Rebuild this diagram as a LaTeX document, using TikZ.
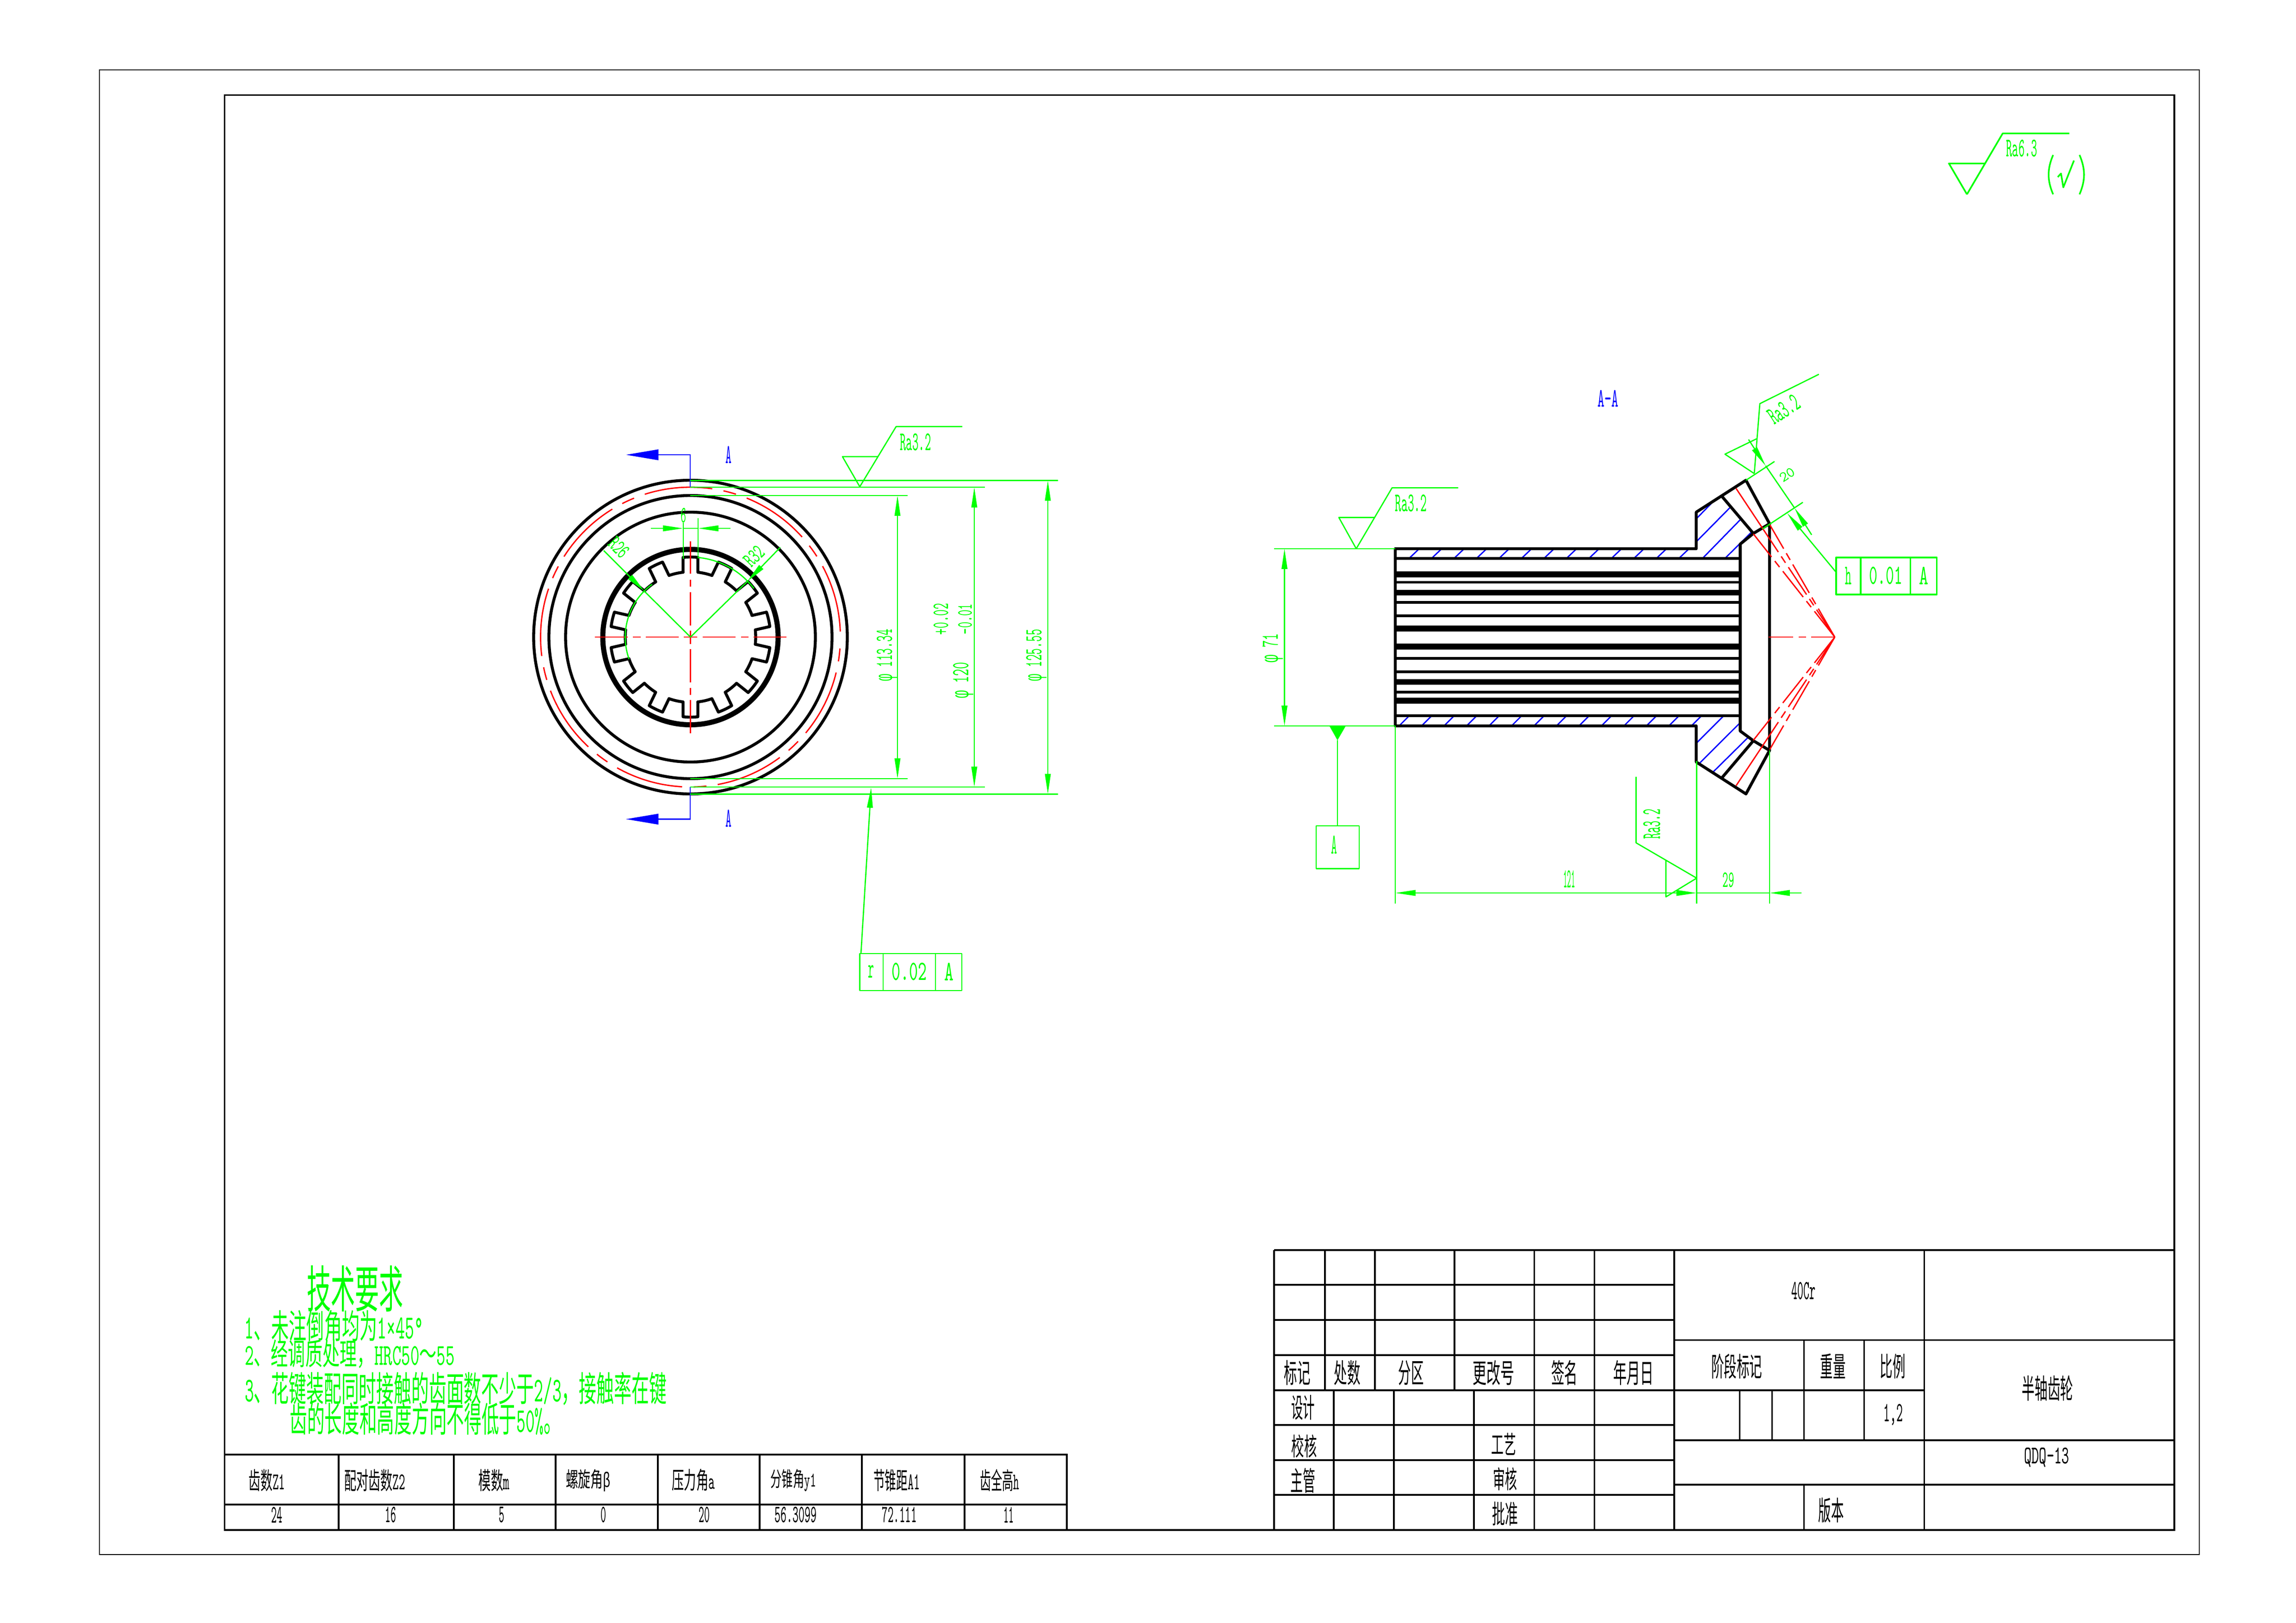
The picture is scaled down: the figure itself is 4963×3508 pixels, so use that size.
\documentclass[tikz,border=0pt]{standalone}
\usepackage{fontspec}
\usepackage{graphicx}
\usetikzlibrary{arrows.meta,calc}
\newfontfamily\cjk{Noto Sans CJK SC}
\newfontfamily\grk{Liberation Mono}
\newcommand{\C}[1]{{\cjk #1}}
\newcommand{\F}{{\grk φ}}
\newlength{\pxu}\setlength{\pxu}{0.56906pt}
\newcommand{\tx}[7]{\node[text=#1,rotate=#4,inner sep=0pt,font=\ttfamily] at (#2,#3) {\resizebox*{#5\pxu}{#6\pxu}{#7}};}
\definecolor{gd}{RGB}{0,255,0}
\definecolor{bd}{RGB}{0,0,255}
\definecolor{rd}{RGB}{255,0,0}
\tikzset{
  blk/.style={draw=black,line width=3.6pt,line cap=round,line join=round},
  thin black/.style={draw=black,line width=1.8pt},
  grn/.style={draw=gd,line width=1.5pt,line join=round},
  hatch/.style={draw=bd,line width=1.6pt},
  redl/.style={draw=rd,line width=1.6pt},
  conedash/.style={redl,dash pattern=on 40.4pt off 6.5pt on 9.4pt off 6.5pt on 40.4pt off 6.5pt on 9.4pt off 6.5pt on 230pt},
  >={Triangle[length=25pt,width=7pt]},
}
\begin{document}
\begin{tikzpicture}[x=0.02cm,y=-0.02cm]
\useasboundingbox (0,0) rectangle (4963,3508);
\fill[white] (0,0) rectangle (4963,3508);
% frames
\draw[draw=black,line width=1.2pt] (215,151) rectangle (4754,3360);
\draw[draw=black,line width=2.1pt] (485.5,205.5) rectangle (4700,3306.7);

% ---------- left view
\draw[blk] (1492.5,1377) circle[radius=339];
\draw[blk] (1492.5,1377) circle[radius=306];
\draw[blk] (1492.5,1377) circle[radius=270];
\draw[blk,line width=6.3pt] (1492.5,1377) circle[radius=189.5];
\begin{scope}[shift={(1492.5,1377)}]
\foreach \k in {0,...,13}{
  \pgfmathsetmacro{\a}{90+\k*360/14}
  \pgfmathsetmacro{\aa}{\a-5.3}
  \pgfmathsetmacro{\ab}{\a+5.3}
  \pgfmathsetmacro{\ac}{\a-6.5}
  \pgfmathsetmacro{\ad}{\a+6.5}
  \pgfmathsetmacro{\ae}{\a+360/14-6.5}
  \draw[blk] (\ac:141) -- (\aa:173) arc[start angle=\aa,end angle=\ab,radius=173] -- (\ad:141) arc[start angle=\ad,end angle=\ae,radius=141];
}
\end{scope}
\draw[redl,dash pattern=on 84pt off 14pt on 16pt off 14pt,dash phase=84pt] (1492.5,1377) ++(324,0) arc[start angle=0,end angle=360,radius=324];
\foreach \a/\b in {1286/1356.7,1368/1385,1396/1466.7,1478/1507,1519/1590,1601.7/1617.7,1629/1700}
  \draw[redl] (\a,1377) -- (\b,1377);
\foreach \a/\b in {1170/1240,1253/1268,1280/1351.7,1363/1392,1403/1475,1486.7/1501.7,1513/1585}
  \draw[redl] (1492.5,\a) -- (1492.5,\b);
% section marks
\tikzset{secarrow/.style={hatch,-{Triangle[length=40pt,width=13pt]}}}
\draw[hatch] (1492,1053) -- (1492,983) -- (1423,983);
\draw[secarrow] (1423,983) -- (1353,983);
\draw[hatch] (1492,1701) -- (1492,1770.5) -- (1423,1770.5);
\draw[secarrow] (1423,1770.5) -- (1353,1770.5);
\tx{bd}{1575}{983}{0}{13}{37}{A}
\tx{bd}{1575}{1769}{0}{13}{37}{A}
% extension and dimension lines
\foreach \yy/\xx in {1038.4/2287,1053/2129,1071/1962}
  \draw[grn] (1492,\yy) -- (\xx,\yy);
\foreach \yy/\xx in {1716.6/2287,1701/2129,1683/1962}
  \draw[grn] (1492,\yy) -- (\xx,\yy);
\draw[grn,<->] (1940,1071) -- (1940,1683);
\draw[grn,<->] (2106,1053) -- (2106,1701);
\draw[grn,<->] (2265,1038.4) -- (2265,1716.6);
\tx{gd}{1917}{1416}{90}{112}{44}{\F\ 113.34}
\tx{gd}{2082}{1470}{90}{78}{44}{\F\ 120}
\tx{gd}{2240}{1416}{90}{112}{44}{\F\ 125.55}
\tx{gd}{2034}{1338}{90}{68}{32}{+0.02}
\tx{gd}{2086}{1338}{90}{66}{30}{-0.01}
% roughness on OD
\draw[grn] (1858.5,1052) -- (1821,987) -- (1898,987);
\draw[grn] (1858.5,1052) -- (1937,922) -- (2080,922);
\tx{gd}{1979}{956}{0}{67}{37}{Ra3.2}
% runout frame
\draw[grn] (1858.5,2061) rectangle (2079,2141);
\draw[grn] (1909,2061) -- (1909,2141);
\draw[grn] (2022,2061) -- (2022,2141);
\tx{gd}{1883}{2100}{0}{13}{27}{r}
\tx{gd}{1965.5}{2100}{0}{76}{38}{0.02}
\tx{gd}{2051}{2100}{0}{20}{38}{A}
\draw[grn,->] (1861,2061) -- (1883,1702);
% spline radii
\draw[grn,->] (1305,1190) -- (1393,1278);
\draw[grn] (1393,1278) -- (1492.5,1377);
\draw[grn,->] (1686.7,1183) -- (1615,1257);
\draw[grn] (1615,1257) -- (1492.5,1377);
\draw[grn] (1492.5,1377) ++(-126:141) arc[start angle=-126,end angle=-199.7,radius=141];
\draw[grn] (1492.5,1377) ++(-84.6:172.8) arc[start angle=-84.6,end angle=-37.5,radius=172.8];
\tx{gd}{1338}{1183}{-45}{44}{30}{R26}
\tx{gd}{1630}{1202}{45}{44}{30}{R32}
% slot width
\draw[grn] (1477,1130) -- (1477,1208);
\draw[grn] (1509,1120) -- (1509,1207);
\draw[grn,->] (1407,1142) -- (1477,1142);
\draw[grn,->] (1579,1142) -- (1509,1142);
\draw[grn] (1477,1142) -- (1509,1142);
\tx{gd}{1477}{1114}{0}{12}{32}{6}

% ---------- section A-A
\tx{bd}{3475.5}{861}{0}{45}{36}{A-A}
\foreach \yy/\w in {1241/7.4,1258.5/3.4,1281/6.3,1302/3.4,1331/3.4,1358.5/7.4,1397/7.4,1423/3.4,1452/3.4,1473.6/6.8,1496/3.4,1514/7.4}
  \draw[draw=black,line width=\w pt] (3016,\yy) -- (3761.6,\yy);
% hatching
\foreach \k in {0,...,12}{
  \pgfmathsetmacro{\xa}{3631-48.6*\k}
  \draw[hatch] (\xa,1205) -- ({\xa+20},1186);
}
\foreach \k in {0,...,13}{
  \pgfmathsetmacro{\xa}{3656-48.6*\k}
  \draw[hatch] (\xa,1569) -- ({\xa+21},1548);
}
\draw[hatch] (3667,1121) -- (3707,1080);
\draw[hatch] (3667,1170.5) -- (3742,1094.6);
\draw[hatch] (3680,1207) -- (3764,1121);
\draw[hatch] (3728.6,1207) -- (3786.6,1149.5);
\draw[hatch] (3667,1606) -- (3726,1547);
\draw[hatch] (3673.7,1649.5) -- (3761,1562.5);
\draw[hatch] (3702,1669.6) -- (3781,1591.5);
% outline
\draw[blk] (3016,1186) -- (3666.5,1186) -- (3666.5,1107) -- (3774,1038) -- (3825,1132) -- (3825,1622) -- (3774,1716) -- (3666.5,1647) -- (3666.5,1569) -- (3016,1569) -- cycle;
\draw[blk] (3016,1207) -- (3761.6,1207);
\draw[blk] (3016,1547) -- (3761.6,1547);
\draw[blk] (3825,1132) -- (3790,1153) -- (3761.6,1176) -- (3761.6,1580) -- (3790,1601) -- (3825,1622);
\draw[blk] (3723,1074) -- (3790,1153);
\draw[blk] (3723,1680) -- (3790,1601);
% pitch cone lines
\foreach \yy/\xx in {1055.8/3752.7,1134/3825.4,1154/3790,1698.2/3752.7,1620/3825.4,1600/3790}
  \draw[conedash] (3966,1377) -- (\xx,\yy);
\draw[redl,dash pattern=on 29pt off 6.3pt on 9.4pt off 6.3pt on 60pt] (3966,1377) -- (3823,1377);
% diameter 71
\draw[grn] (2754,1186) -- (3016,1186);
\draw[grn] (2754,1569) -- (3016,1569);
\draw[grn,<->] (2776.5,1186) -- (2776.5,1569);
\tx{gd}{2751}{1400.8}{90}{63}{44}{\F\ 71}
% roughness left
\draw[grn] (2931.6,1186) -- (2894,1118.5) -- (2970.4,1118.5);
\draw[grn] (2931.6,1186) -- (3009,1054.4) -- (3152,1054.4);
\tx{gd}{3050}{1088}{0}{69}{37}{Ra3.2}
% datum
\fill[gd] (2873.5,1569) -- (2909,1569) -- (2891,1600) -- cycle;
\draw[grn] (2891,1600) -- (2891,1785);
\draw[grn] (2845,1785) rectangle (2938,1877.7);
\tx{gd}{2884}{1826}{0}{13}{39}{A}
% length dims
\draw[grn] (3016,1569) -- (3016,1953);
\draw[grn] (3667.5,1645) -- (3667.5,1953);
\draw[grn] (3825,1622) -- (3825,1953);
\draw[grn,<->] (3016,1930) -- (3667.5,1930);
\draw[grn] (3667.5,1930) -- (3825,1930);
\draw[grn,<-] (3825,1930) -- (3894,1930);
\tx{gd}{3392}{1900}{0}{26}{37}{121}
\tx{gd}{3736}{1902}{0}{25}{32}{29}
% roughness bottom
\draw[grn] (3536.5,1679) -- (3536.5,1821.7) -- (3667.5,1898) -- (3601,1938.5) -- (3601,1859.5);
\tx{gd}{3570.5}{1781}{90}{65}{37}{Ra3.2}
% roughness on flange
\draw[grn] (3792,1023.6) -- (3728.6,981.7) -- (3797,948.4);
\draw[grn] (3792,1023.6) -- (3804,872.5) -- (3931.6,809);
\tx{gd}{3856}{885}{33}{71}{36}{Ra3.2}
% dim 20
\draw[grn] (3774,1038) -- (3835.7,997.5);
\draw[grn] (3810,1143) -- (3897,1085.7);
\draw[grn,->] (3779.6,950) -- (3816.5,1006.7);
\draw[grn,->] (3916,1156) -- (3879,1098);
\draw[grn] (3816.5,1006.7) -- (3879,1098);
\tx{gd}{3863}{1026}{33}{34}{20}{20}
% tolerance frame
\draw[grn,->] (3969,1237) -- (3863,1109);
\draw[grn,line width=2pt] (3969,1205) rectangle (4186.6,1285);
\draw[grn,line width=2pt] (4022,1205) -- (4022,1285);
\draw[grn,line width=2pt] (4129.4,1205) -- (4129.4,1285);
\tx{gd}{3995}{1244.6}{0}{14}{38}{h}
\tx{gd}{4076}{1244.6}{0}{72}{38}{0.01}
\tx{gd}{4158}{1244.6}{0}{20}{38}{A}

% ---------- general roughness
\draw[grn,line width=2pt] (4251.7,420) -- (4212.7,353.3) -- (4290,353.3);
\draw[grn,line width=2pt] (4251.7,420) -- (4329,288.3) -- (4472.7,288.3);
\tx{gd}{4370}{320.7}{0}{67}{37}{Ra6.3}
\draw[grn,line width=2pt] (4438,335) .. controls (4425,365) and (4425,390) .. (4438,420);
\draw[grn,line width=2pt] (4495,335) .. controls (4508,365) and (4508,390) .. (4495,420);
\draw[grn,line width=2pt] (4448,382.7) -- (4455,375) -- (4460,405) -- (4483,347);

% ---------- technical requirements
\tx{gd}{767.5}{2785}{0}{209}{100}{\C{技术要求}}
\tx{gd}{722}{2866}{0}{387}{68}{1\C{、未注倒角均为}1×45°}
\tx{gd}{756}{2926}{0}{454}{62}{2\C{、经调质处理，}HRC50\C{～}55}
\tx{gd}{985}{3002}{0}{912}{72}{3\C{、花键装配同时接触的齿面数不少于}2/3\C{，接触率在键}}
\tx{gd}{920}{3067}{0}{587}{70}{\C{齿的长度和高度方向不得低于}50\%\C{。}}

% ---------- parameter table
\draw[thin black] (486,3144) -- (2306,3144) -- (2306,3307);
\draw[thin black] (486,3252) -- (2306,3252);
\foreach \xx in {732,981,1201,1422,1642,1863,2085}
  \draw[thin black] (\xx,3144) -- (\xx,3307);
\tx{black}{577}{3199.5}{0}{79}{48}{\C{齿数}Z1}
\tx{black}{810}{3199.5}{0}{132}{48}{\C{配对齿数}Z2}
\tx{black}{1068}{3199.5}{0}{67}{48}{\C{模数}m}
\tx{black}{1271.5}{3199.5}{0}{97}{48}{\C{螺旋角}{\grk β}}
\tx{black}{1499}{3199.5}{0}{93}{48}{\C{压力角}a}
\tx{black}{1715}{3199.5}{0}{99}{48}{\C{分锥角}y1}
\tx{black}{1938}{3199.5}{0}{100}{48}{\C{节锥距}A1}
\tx{black}{2161}{3199.5}{0}{85}{48}{\C{齿全高}h}
\tx{black}{598}{3274}{0}{24}{34}{24}
\tx{black}{844}{3274}{0}{24}{34}{16}
\tx{black}{1084}{3274}{0}{12}{34}{5}
\tx{black}{1304}{3274}{0}{12}{34}{0}
\tx{black}{1522}{3274}{0}{24}{34}{20}
\tx{black}{1720}{3274}{0}{91}{34}{56.3099}
\tx{black}{1944}{3274}{0}{75}{34}{72.111}
\tx{black}{2180}{3274}{0}{22}{34}{11}

% ---------- title block
\foreach \yy in {2702,2777,2853,2929,3005,3080,3156,3231}
  \draw[thin black] (2754,\yy) -- (3619,\yy);
\draw[thin black] (2754,2702) -- (2754,3307);
\draw[thin black] (2754,2702) -- (4700,2702);
\foreach \xx in {2864,2972,3144,3316.5,3446.6}
  \draw[thin black] (\xx,2702) -- (\xx,3005);
\foreach \xx in {2883,3013,3186,3316.5,3446.6}
  \draw[thin black] (\xx,3005) -- (\xx,3307);
\draw[thin black] (3619,2702) -- (3619,3307);
\draw[thin black] (4159.6,2702) -- (4159.6,3307);
\draw[thin black] (3619,2896.4) -- (4700,2896.4);
\draw[thin black] (3619,3005) -- (4159.6,3005);
\draw[thin black] (3619,3113) -- (4700,3113);
\draw[thin black] (3619,3209) -- (4700,3209);
\draw[thin black] (3899.5,2896.4) -- (3899.5,3113);
\draw[thin black] (4029.5,2896.4) -- (4029.5,3113);
\draw[thin black] (3760.4,3005) -- (3760.4,3113);
\draw[thin black] (3830.5,3005) -- (3830.5,3113);
\draw[thin black] (3899.5,3209) -- (3899.5,3307);
\tx{black}{2804}{2967}{0}{57}{54}{\C{标记}}
\tx{black}{2912}{2967}{0}{57}{54}{\C{处数}}
\tx{black}{3050}{2967}{0}{55}{54}{\C{分区}}
\tx{black}{3228.5}{2967}{0}{90}{54}{\C{更改号}}
\tx{black}{3381.6}{2967}{0}{57}{54}{\C{签名}}
\tx{black}{3531}{2967}{0}{87}{54}{\C{年月日}}
\tx{black}{3754}{2953}{0}{110}{54}{\C{阶段标记}}
\tx{black}{3962}{2953}{0}{55}{54}{\C{重量}}
\tx{black}{4091}{2953}{0}{55}{54}{\C{比例}}
\tx{black}{4426}{3001}{0}{111}{55}{\C{半轴齿轮}}
\tx{black}{2816.5}{3042}{0}{51}{54}{\C{设计}}
\tx{black}{2819}{3126}{0}{55}{50}{\C{校核}}
\tx{black}{2816.5}{3200.6}{0}{54}{54}{\C{主管}}
\tx{black}{3250}{3121}{0}{54}{48}{\C{工艺}}
\tx{black}{3253}{3196.5}{0}{52}{50}{\C{审核}}
\tx{black}{3253}{3272}{0}{56}{52}{\C{批准}}
\tx{black}{3958}{3264}{0}{55}{54}{\C{版本}}
\tx{black}{3898}{2790}{0}{52}{38}{40Cr}
\tx{black}{4424}{3150}{0}{98}{42}{QDQ-13}
\tx{black}{4092}{3058}{0}{42}{46}{1,2}
\end{tikzpicture}
\end{document}
